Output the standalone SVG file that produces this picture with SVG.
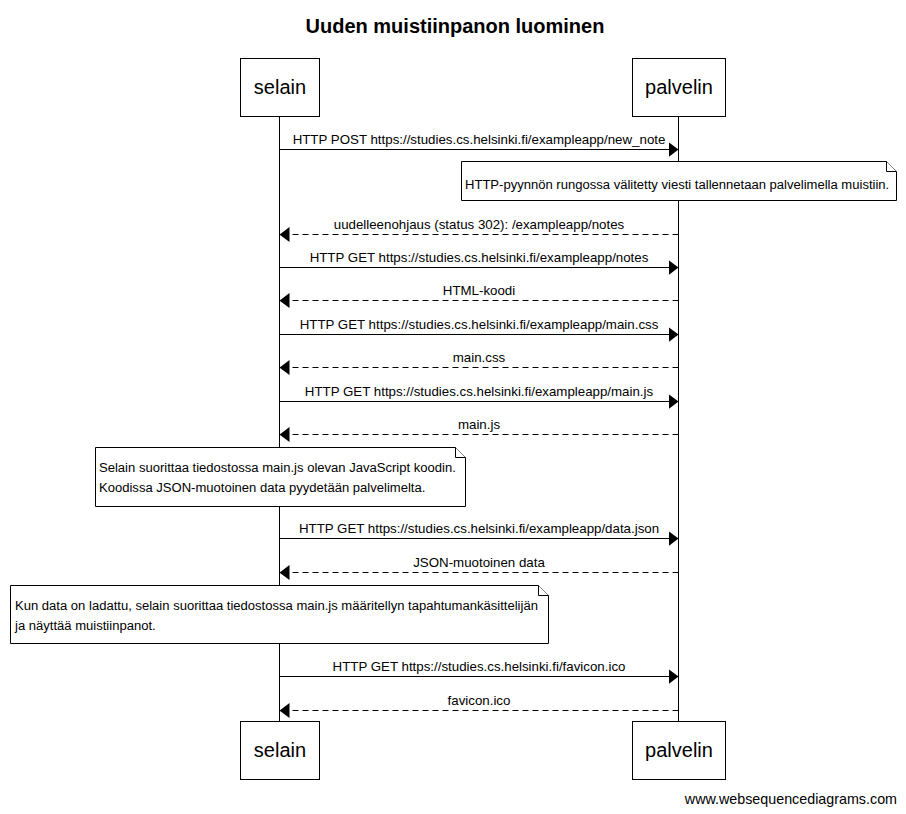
<svg xmlns="http://www.w3.org/2000/svg" width="906" height="814" viewBox="0 0 906 814">
<defs>
<marker id="ah" markerWidth="10" markerHeight="16" refX="10" refY="8" orient="auto" markerUnits="userSpaceOnUse">
<path d="M0,0.5 L10,8 L0,15.5 Z" fill="#000"/>
</marker>
</defs>
<style>
text{font-family:"Liberation Sans",Arial,sans-serif;fill:#000}
.lbl{font-size:13.3px;text-anchor:middle}
.note{font-size:13.05px}
.actor{font-size:20px;text-anchor:middle}
.title{font-size:20px;font-weight:bold;text-anchor:middle}
.box{fill:#fff;stroke:#000;stroke-width:1}
.life{stroke:#000;stroke-width:1}
.msg{stroke:#000;stroke-width:1;fill:none;marker-end:url(#ah)}
.ret{stroke-dasharray:6,4}
.nt{fill:#fff;stroke:#000;stroke-width:1}
</style>
<rect width="906" height="814" fill="#fff"/>
<text class="title" x="455" y="33">Uuden muistiinpanon luominen</text>
<g id="lifelines">
<line class="life" x1="279.5" y1="116" x2="279.5" y2="721"/>
<line class="life" x1="678.5" y1="116" x2="678.5" y2="721"/>
</g>
<g id="selain">
<rect class="box" x="240.5" y="58.5" width="79" height="58"/>
<text class="actor" x="280" y="94">selain</text>
<rect class="box" x="240.5" y="721.5" width="79" height="58"/>
<text class="actor" x="280" y="757">selain</text>
</g>
<g id="palvelin">
<rect class="box" x="632.5" y="58.5" width="93" height="58"/>
<text class="actor" x="679" y="94">palvelin</text>
<rect class="box" x="632.5" y="721.5" width="93" height="58"/>
<text class="actor" x="679" y="757">palvelin</text>
</g>
<g id="connectors">
<line class="msg" x1="279.5" y1="149.5" x2="678.5" y2="149.5"/>
<text class="lbl" x="479" y="144">HTTP POST https://studies.cs.helsinki.fi/exampleapp/new_note</text>
<line class="msg ret" x1="678.5" y1="234.5" x2="279.5" y2="234.5"/>
<text class="lbl" x="479" y="229">uudelleenohjaus (status 302): /exampleapp/notes</text>
<line class="msg" x1="279.5" y1="267.5" x2="678.5" y2="267.5"/>
<text class="lbl" x="479" y="262">HTTP GET https://studies.cs.helsinki.fi/exampleapp/notes</text>
<line class="msg ret" x1="678.5" y1="300.5" x2="279.5" y2="300.5"/>
<text class="lbl" x="479" y="295">HTML-koodi</text>
<line class="msg" x1="279.5" y1="334.5" x2="678.5" y2="334.5"/>
<text class="lbl" x="479" y="329">HTTP GET https://studies.cs.helsinki.fi/exampleapp/main.css</text>
<line class="msg ret" x1="678.5" y1="367.5" x2="279.5" y2="367.5"/>
<text class="lbl" x="479" y="362">main.css</text>
<line class="msg" x1="279.5" y1="401.5" x2="678.5" y2="401.5"/>
<text class="lbl" x="479" y="396">HTTP GET https://studies.cs.helsinki.fi/exampleapp/main.js</text>
<line class="msg ret" x1="678.5" y1="434.5" x2="279.5" y2="434.5"/>
<text class="lbl" x="479" y="429">main.js</text>
<line class="msg" x1="279.5" y1="538.5" x2="678.5" y2="538.5"/>
<text class="lbl" x="479" y="533">HTTP GET https://studies.cs.helsinki.fi/exampleapp/data.json</text>
<line class="msg ret" x1="678.5" y1="572.5" x2="279.5" y2="572.5"/>
<text class="lbl" x="479" y="567">JSON-muotoinen data</text>
<line class="msg" x1="279.5" y1="676.5" x2="678.5" y2="676.5"/>
<text class="lbl" x="479" y="671">HTTP GET https://studies.cs.helsinki.fi/favicon.ico</text>
<line class="msg ret" x1="678.5" y1="710.5" x2="279.5" y2="710.5"/>
<text class="lbl" x="479" y="705">favicon.ico</text>
</g>
<g id="note1">
<path class="nt" d="M461.5,161.5 H886.5 L896.5,171.5 V200.5 H461.5 Z"/>
<path class="nt" d="M886.5,161.5 V171.5 H896.5"/>
<text class="note" x="465" y="189">HTTP-pyynnön rungossa välitetty viesti tallennetaan palvelimella muistiin.</text>
</g>
<g id="note2">
<path class="nt" d="M95.5,447.5 H455.5 L465.5,457.5 V506.5 H95.5 Z"/>
<path class="nt" d="M455.5,447.5 V457.5 H465.5"/>
<text class="note" x="99" y="472">Selain suorittaa tiedostossa main.js olevan JavaScript koodin.</text>
<text class="note" x="99" y="492">Koodissa JSON-muotoinen data pyydetään palvelimelta.</text>
</g>
<g id="note3">
<path class="nt" d="M10.5,585.5 H538.5 L548.5,595.5 V643.5 H10.5 Z"/>
<path class="nt" d="M538.5,585.5 V595.5 H548.5"/>
<text class="note" x="15" y="610">Kun data on ladattu, selain suorittaa tiedostossa main.js määritellyn tapahtumankäsittelijän</text>
<text class="note" x="15" y="630">ja näyttää muistiinpanot.</text>
</g>
<text x="897" y="804" style="font-size:14.3px;text-anchor:end">www.websequencediagrams.com</text>
</svg>
